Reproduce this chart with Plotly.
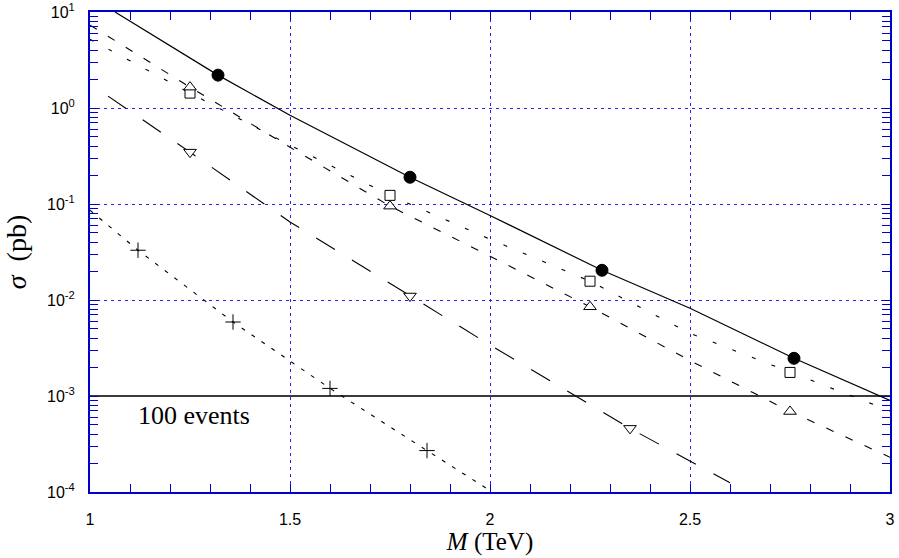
import plotly.graph_objects as go

# ---- data ----
# solid line (filled circles)
m_solid = [1.0625, 1.32, 1.5, 1.8, 2.0, 2.28, 2.5, 2.76, 3.0]
s_solid = [10, 2.2, 0.84, 0.19, 0.076, 0.0204, 0.0082, 0.00247, 0.0009]
m_circ = [1.32, 1.8, 2.28, 2.76]
s_circ = [2.2, 0.19, 0.0204, 0.00247]

# dashed line (open up-triangles)
m_dash = [1.0, 1.25, 1.5, 1.75, 2.0, 2.25, 2.5, 2.75, 3.0]
s_dash = [7.3, 1.65, 0.39, 0.095, 0.0286, 0.0085, 0.00234, 0.00069, 0.00023]
m_tri = [1.25, 1.75, 2.25, 2.75]
s_tri = [1.65, 0.095, 0.0085, 0.00069]

# dotted line (open squares)
m_dot = [1.0, 1.25, 1.5, 1.75, 2.0, 2.25, 2.5, 2.75, 3.0]
s_dot = [5.2, 1.43, 0.41, 0.123, 0.043, 0.0157, 0.0045, 0.00176, 0.0007]
m_sq = [1.25, 1.75, 2.25, 2.75]
s_sq = [1.43, 0.123, 0.0157, 0.00176]

# long-dashed line (open down-triangles)
m_long = [1.045, 1.25, 1.5, 1.8, 2.0, 2.35, 2.6]
s_long = [1.33, 0.347, 0.065, 0.011, 0.0034, 0.00046, 0.000125]
m_dtri = [1.25, 1.8, 2.35]
s_dtri = [0.347, 0.011, 0.00046]

# fine dotted line (plus markers)
m_fine = [1.0, 1.12, 1.3575, 1.5, 1.6, 1.8425, 1.99]
s_fine = [0.086, 0.033, 0.0059, 0.00234, 0.0012, 0.00027, 0.00011]
m_plus = [1.12, 1.3575, 1.6, 1.8425]
s_plus = [0.033, 0.0059, 0.0012, 0.00027]

# 100 events level
m_events = [1.0, 3.0]
s_events = [1e-3, 1e-3]

# axis ticks
y_tickvals = [1e-4, 1e-3, 1e-2, 1e-1, 1e0, 1e1]
y_ticktext = ["10<sup>-4</sup>", "10<sup>-3</sup>", "10<sup>-2</sup>",
              "10<sup>-1</sup>", "10<sup>0</sup>", "10<sup>1</sup>"]
y_minor = [k * 10.0 ** e for e in range(-4, 1) for k in range(2, 10)]

BLUE = "#2020f0"
FRAME = "#0000cc"

fig = go.Figure()

def line(x, y, dash, width=1.1):
    fig.add_trace(go.Scatter(x=x, y=y, mode="lines",
                             line=dict(color="black", width=width, dash=dash),
                             hoverinfo="skip"))

def marks(x, y, symbol, size=11, fill="white"):
    fig.add_trace(go.Scatter(x=x, y=y, mode="markers",
                             marker=dict(symbol=symbol, size=size, color=fill,
                                         line=dict(color="black", width=1)),
                             cliponaxis=False))

fig.add_trace(go.Scatter(x=m_events, y=s_events, mode="lines",
                         line=dict(color="#3a3a3a", width=2)))

line(m_solid, s_solid, "solid", 1.2)
line(m_dash, s_dash, "8px,13px")
line(m_dot, s_dot, "4px,17px")
line(m_long, s_long, "22px,20px")
line(m_fine, s_fine, "4px,8px")

marks(m_circ, s_circ, "circle", 12, fill="black")
marks(m_sq, s_sq, "square", 10)
marks(m_tri, s_tri, "triangle-up", 11)
marks(m_dtri, s_dtri, "triangle-down", 11)
marks(m_plus, s_plus, "cross-thin-open", 11, fill="black")

fig.add_annotation(x=1.115, y=-3.2, xref="x", yref="y", text="100 events",
                   showarrow=False, xanchor="left", yanchor="middle",
                   font=dict(family="Liberation Serif", size=26, color="black"))

fig.update_layout(
    width=899, height=558,
    margin=dict(l=90, r=9, t=12, b=66),
    plot_bgcolor="white", paper_bgcolor="white",
    showlegend=False,
    xaxis=dict(
        range=[1, 3], tickmode="linear", tick0=1, dtick=0.5,
        automargin=False, ticklabeloverflow="allow",
        showgrid=True, gridcolor=BLUE, griddash="3px,4px", gridwidth=1,
        showline=True, linecolor=FRAME, linewidth=2, mirror="ticks",
        ticks="inside", ticklen=8, tickcolor=FRAME, tickwidth=1,
        minor=dict(tick0=1, dtick=0.1, ticks="inside", ticklen=8,
                   tickcolor=FRAME, showgrid=False),
        zeroline=False, ticklabelstandoff=12,
        tickfont=dict(family="Liberation Sans", size=16, color="black"),
        title=dict(text="<i>M</i> (TeV)", standoff=0,
                   font=dict(family="Liberation Serif", size=25, color="black")),
    ),
    yaxis=dict(
        type="log", range=[-4, 1], tickmode="array",
        tickvals=y_tickvals, ticktext=y_ticktext,
        automargin=False, ticklabeloverflow="allow",
        showgrid=True, gridcolor=BLUE, griddash="3px,4px", gridwidth=1,
        showline=True, linecolor=FRAME, linewidth=2, mirror="ticks",
        ticks="inside", ticklen=8, tickcolor=FRAME, tickwidth=1,
        minor=dict(tickmode="array", tickvals=y_minor, ticks="inside",
                   ticklen=8, tickcolor=FRAME, showgrid=False),
        zeroline=False, ticklabelstandoff=10,
        tickfont=dict(family="Liberation Sans", size=16, color="black"),
        title=dict(text="<i>σ</i>  (pb)", standoff=12,
                   font=dict(family="Liberation Serif", size=28, color="black")),
    ),
)

fig.write_html("out.html", config={"displayModeBar": False},
               post_script="document.body.style.margin='0px';")
